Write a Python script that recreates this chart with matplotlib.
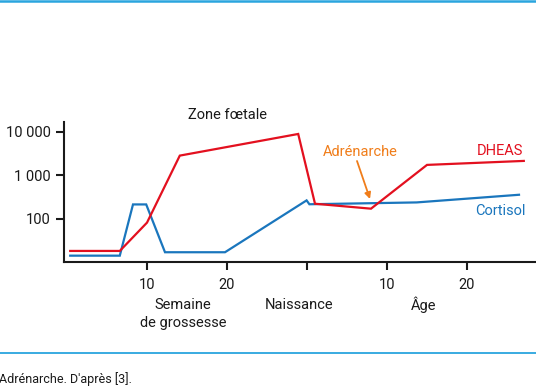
import matplotlib
matplotlib.use("Agg")
import matplotlib.pyplot as plt
from matplotlib.lines import Line2D
from matplotlib.ticker import FixedLocator, NullLocator

plt.rcParams['font.family'] = ['Roboto', 'DejaVu Sans']

# axis is one continuous scale: weeks of pregnancy, then birth, then years of age
BIRTH = 30.0

dheas_weeks = [0.4, 6.6, 10.0, 14.1, 28.9]
dheas_weeks_val = [18, 18, 81, 2850, 9000]
dheas_years = [1.0, 8.0, 15.0, 27.1]
dheas_years_val = [221, 170, 1740, 2150]

cort_weeks = [0.4, 6.6, 8.25, 9.9, 12.25, 19.75, 29.95]
cort_weeks_val = [14, 14, 213, 213, 16.8, 16.8, 264]
cort_years = [0.3, 13.7, 26.5]
cort_years_val = [215, 237, 356]

x_ticks = [10, 20, BIRTH, BIRTH + 10, BIRTH + 20]
x_tick_labels = ['10', '20', '', '10', '20']
y_ticks = [100, 1000, 10000]
y_tick_labels = ['100', '1 000', '10 000']

red = '#e3101f'
blue = '#1a76bd'
orange = '#f07d1a'
cyan = '#2aa5de'
dark = '#1a1a1a'
fs = 10.5

W, H = 536, 386
fig = plt.figure(figsize=(W / 100, H / 100), dpi=100)


def fx(px):
    return px / W


def fy(py):
    return 1 - py / H


ax = fig.add_axes([fx(64), fy(262), fx(536) - fx(64), fy(122) - fy(262)])

dx = dheas_weeks + [BIRTH + a for a in dheas_years]
dy = dheas_weeks_val + dheas_years_val
cx = cort_weeks + [BIRTH + a for a in cort_years]
cy = cort_weeks_val + cort_years_val

ax.plot(cx, cy, color=blue, lw=1.6, solid_joinstyle='miter')
ax.plot(dx, dy, color=red, lw=1.6, solid_joinstyle='miter')

ax.set_yscale('log')
ax.set_ylim(10, 17000)
ax.set_xlim((64 - 67) / 8, (536 - 67) / 8)

ax.yaxis.set_major_locator(FixedLocator(y_ticks))
ax.yaxis.set_minor_locator(NullLocator())
ax.set_yticklabels(y_tick_labels)
ax.set_xticks(x_ticks)
ax.set_xticklabels(x_tick_labels)

for s in ['top', 'right']:
    ax.spines[s].set_visible(False)
for s in ['left', 'bottom']:
    ax.spines[s].set_linewidth(1.5)
    ax.spines[s].set_color(dark)
ax.tick_params(direction='out', length=5.5, width=1.5, color=dark,
               labelsize=fs, labelcolor=dark, pad=4)
ax.tick_params(axis='x', pad=6)

# annotations
fig.text(fx(228), fy(115), 'Zone fœtale', ha='center', va='center',
         fontsize=fs, color=dark)
fig.text(fx(360), fy(152), 'Adrénarche', ha='center', va='center',
         fontsize=fs, color=orange)
fig.text(fx(500), fy(151), 'DHEAS', ha='center', va='center',
         fontsize=fs, color=red)
fig.text(fx(500), fy(211), 'Cortisol', ha='center', va='center',
         fontsize=fs, color=blue)
fig.add_artist(plt.Annotation('', xy=(fx(370), fy(199)), xytext=(fx(357), fy(161)),
                              xycoords='figure fraction', textcoords='figure fraction',
                              arrowprops=dict(arrowstyle='-|>', color=orange, lw=1.3,
                                              mutation_scale=9, shrinkA=0, shrinkB=0)))

fig.text(fx(183), fy(305), 'Semaine', ha='center', va='center', fontsize=fs, color=dark)
fig.text(fx(183), fy(323), 'de grossesse', ha='center', va='center', fontsize=fs, color=dark)
fig.text(fx(299), fy(305), 'Naissance', ha='center', va='center', fontsize=fs, color=dark)
fig.text(fx(424), fy(305), 'Âge', ha='center', va='center', fontsize=fs, color=dark)

# frame lines and caption
fig.add_artist(Line2D([0, 1], [fy(1.2), fy(1.2)], color=cyan, lw=1.8))
fig.add_artist(Line2D([0, 1], [fy(353), fy(353)], color=cyan, lw=1.3))
fig.text(fx(-1), fy(379), "Adrénarche. D'après [3].", ha='left', va='center',
         fontsize=9, color=dark)

fig.savefig('out.png', dpi=100)
